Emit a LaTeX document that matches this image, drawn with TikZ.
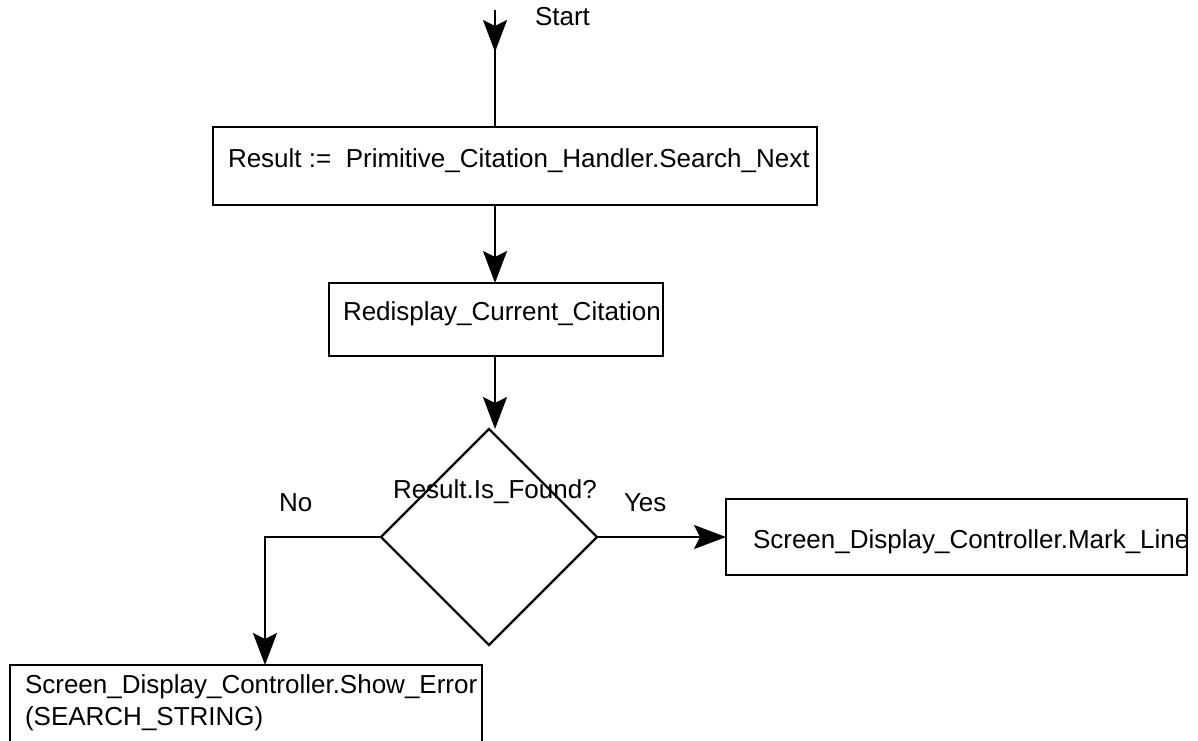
\documentclass[tikz,border=0pt]{standalone}
\usepackage{fontspec}
\setmainfont{Liberation Sans}
\usetikzlibrary{shapes.geometric,arrows.meta,decorations.markings}
\begin{document}
\begin{tikzpicture}[x=1pt,y=-1pt,
  every node/.style={inner sep=0pt,outer sep=0pt,font=\fontsize{26}{32}\selectfont},
  box/.style={draw,line width=2.2pt,anchor=north west,rectangle},
  decision/.style={draw,line width=2.2pt,diamond,minimum width=216pt,minimum height=216pt},
  txt/.style={anchor=base west},
  head/.style={-{Stealth[length=32pt,width=24pt,inset=6pt]}},
  flow/.style={line width=2.4pt,head}]
\useasboundingbox (0,0) rectangle (1198,740);

% boxes and decision
\node[box,minimum width=604pt,minimum height=78pt] (b1) at (213,127) {};
\node[box,minimum width=334pt,minimum height=73pt] (b2) at (329,283) {};
\node[decision] (d) at (489,537) {};
\node[box,minimum width=461pt,minimum height=76pt] (b3) at (726,499) {};
\node[box,minimum width=472pt,minimum height=85pt] (b4) at (10,665) {};

% texts
\node[txt] (tstart) at (535,25) {Start};
\node[txt] (t1) at (228,167) {Result :=\ \ Primitive\_Citation\_Handler.Search\_Next};
\node[txt] (t2) at (343,320) {Redisplay\_Current\_Citation};
\node[txt] (td) at (393,498) {Result.Is\_Found?};
\node[txt] (tno) at (279,511) {No};
\node[txt] (tyes) at (624,511) {Yes};
\node[txt] (t3) at (753,548) {Screen\_Display\_Controller.Mark\_Line};
\node[txt,align=left,anchor=north west] (t4) at (25,675) {Screen\_Display\_Controller.Show\_Error\\(SEARCH\_STRING)};

% connectors
\coordinate (start) at (495,10);
\coordinate (nobend) at (265,537);
\draw[line width=2.4pt,postaction={decorate},
  decoration={markings,mark=at position 42pt with {\arrow{Stealth[length=32pt,width=24pt,inset=6pt]}}}]
  (start) -- (start |- b1.north);
\draw[flow] (start |- b1.south) -- (start |- b2.north);
\draw[flow] (start |- b2.south) -- (start |- d.north);
\draw[flow] (d.east) -- (b3.west);
\draw[flow] (d.west) -- (nobend) -- (nobend |- b4.north);
\end{tikzpicture}
\end{document}
